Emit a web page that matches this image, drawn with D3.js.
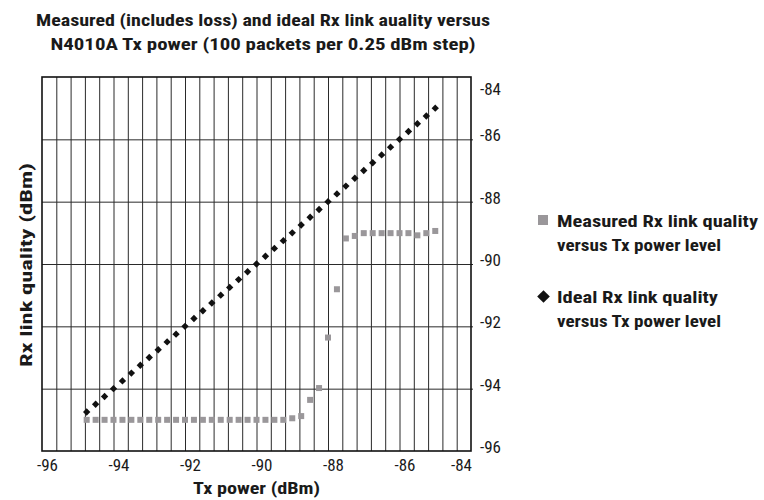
<!DOCTYPE html>
<html>
<head>
<meta charset="utf-8">
<script src="https://cdn.jsdelivr.net/npm/d3@7"></script>
<style>
  html, body { margin: 0; padding: 0; background: #fff; }
  svg { display: block; }
  text { font-family: "Liberation Sans Narrow", "Roboto Condensed", "DejaVu Sans Condensed", "Liberation Sans", sans-serif; font-stretch: condensed; fill: #1a1a1a; }
</style>
</head>
<body>
<svg id="chart" width="764" height="500"></svg>
<script>
// ---- data ----
const txPower = [-94.75, -94.5, -94.25, -94, -93.75, -93.5, -93.25, -93, -92.75, -92.5,
                 -92.25, -92, -91.75, -91.5, -91.25, -91, -90.75, -90.5, -90.25, -90,
                 -89.75, -89.5, -89.25, -89, -88.75, -88.5, -88.25, -88, -87.75, -87.5,
                 -87.25, -87, -86.75, -86.5, -86.25, -86, -85.75, -85.5, -85.25, -85];
const idealRx = [-94.75, -94.5, -94.25, -94, -93.75, -93.5, -93.25, -93, -92.75, -92.5,
                 -92.25, -92, -91.75, -91.5, -91.25, -91, -90.75, -90.5, -90.25, -90,
                 -89.75, -89.5, -89.25, -89, -88.75, -88.5, -88.25, -88, -87.75, -87.5,
                 -87.25, -87, -86.75, -86.5, -86.25, -86, -85.75, -85.5, -85.25, -85];
const measuredRx = [-95, -95, -95, -95, -95, -95, -95, -95, -95, -95,
                    -95, -95, -95, -95, -95, -95, -95, -95, -95, -95,
                    -95, -95, -95, -94.95, -94.88, -94.36, -93.98, -92.36, -90.81, -89.18,
                    -89.10, -89.01, -89.01, -89.01, -89.01, -89.01, -89.01, -89.08, -89.01, -88.94];
const xTicks = [-96, -94, -92, -90, -88, -86, -84];
const yTicks = [-96, -94, -92, -90, -88, -86, -84];
const xGrid = [-95.6, -95.2, -94.8, -94.4, -94, -93.6, -93.2, -92.8, -92.4, -92, -91.6, -91.2,
               -90.8, -90.4, -90, -89.6, -89.2, -88.8, -88.4, -88, -87.6, -87.2, -86.8, -86.4,
               -86, -85.6, -85.2, -84.8, -84.4];
const yGrid = [-94, -92, -90, -88, -86];
const titleLines = ["Measured (includes loss) and ideal Rx link auality versus",
                    "N4010A Tx power (100 packets per 0.25 dBm step)"];
const xTitle = "Tx power (dBm)";
const yTitle = "Rx link quality (dBm)";
const legendItems = [
  {name: ["Measured Rx link quality", "versus Tx power level"], kind: "square"},
  {name: ["Ideal Rx link quality", "versus Tx power level"], kind: "diamond"}
];

// ---- layout ----
const L = 42, R = 471, T = 77, B = 451;
const svg = d3.select("#chart");
const x = d3.scaleLinear().domain([-96, -84]).range([L, R]);
const y = d3.scaleLinear().domain([-96, -84]).range([B, T]);

const gridColor = "#2a2a2a";
const sqColor = "#9a979a";
const fmt = d => String(d);   // plain hyphen-minus as in the reference

// stretch text horizontally to a target width (condensed face is narrower)
function fit(sel, w) {
  sel.attr("textLength", w).attr("lengthAdjust", "spacingAndGlyphs");
}

// vertical grid via axis
const gx = svg.append("g").attr("transform", `translate(0,${B})`)
  .call(d3.axisBottom(x).tickValues(xGrid).tickSize(-(B - T)).tickFormat(""));
gx.select(".domain").remove();
gx.selectAll(".tick line").attr("stroke", gridColor).attr("stroke-width", 1);

// horizontal grid via axis (extends 2px outside on right)
const gy = svg.append("g").attr("transform", `translate(${R + 2},0)`)
  .call(d3.axisLeft(y).tickValues(yGrid).tickSize(R + 2 - L).tickFormat(""));
gy.select(".domain").remove();
gy.selectAll(".tick line").attr("stroke", gridColor).attr("stroke-width", 1);

// frame
svg.append("rect").attr("x", L).attr("y", T).attr("width", R - L).attr("height", B - T)
  .attr("fill", "none").attr("stroke", "#111").attr("stroke-width", 1.6);

// x tick labels
const xa = svg.append("g").attr("transform", `translate(0,${B})`)
  .call(d3.axisBottom(x).tickValues(xTicks).tickSize(0).tickFormat(fmt));
xa.select(".domain").remove();
xa.selectAll(".tick text")
  .attr("font-size", 16).attr("fill", "#1a1a1a")
  .attr("y", 20).attr("dy", 0)
  .attr("dx", d => d === -84 ? -10 : 5)
  .call(fit, 21);

// y tick labels
const ya = svg.append("g").attr("transform", `translate(${R},0)`)
  .call(d3.axisRight(y).tickValues(yTicks).tickSize(0).tickFormat(fmt));
ya.select(".domain").remove();
ya.selectAll(".tick text")
  .attr("font-size", 16).attr("fill", "#1a1a1a")
  .attr("x", 9).attr("dy", d => d === -84 ? "1.1em" : "0.1em")
  .attr("text-anchor", "start")
  .call(fit, 21);
svg.selectAll(".tick text").attr("font-family", null);
xa.attr("font-family", null); ya.attr("font-family", null);

// measured squares
const sq = 6;
svg.append("g").selectAll("rect").data(txPower).join("rect")
  .attr("x", (d, i) => x(d) - sq / 2)
  .attr("y", (d, i) => y(measuredRx[i]) - sq / 2)
  .attr("width", sq).attr("height", sq)
  .attr("fill", sqColor);

// ideal diamonds
const diamond = d3.symbol().type(d3.symbolSquare).size(27);
svg.append("g").selectAll("path").data(txPower).join("path")
  .attr("d", diamond)
  .attr("transform", (d, i) => `translate(${x(d)},${y(idealRx[i])}) rotate(45)`)
  .attr("fill", "#111");

// title
const titleW = [454, 425];
titleLines.forEach((t, i) => {
  svg.append("text").attr("text-anchor", "middle").attr("font-weight", "bold")
    .attr("font-size", 17).attr("x", 263).attr("y", 26 + i * 24).text(t)
    .call(fit, titleW[i]);
});

// axis titles
svg.append("text").attr("x", (L + R) / 2).attr("y", 494).attr("text-anchor", "middle")
  .attr("font-weight", "bold").attr("font-size", 16).text(xTitle).call(fit, 127);
svg.append("text").attr("transform", `translate(32,${(T + B) / 2 + 1}) rotate(-90)`)
  .attr("text-anchor", "middle").attr("font-weight", "bold").attr("font-size", 16).text(yTitle)
  .call(fit, 204);

// legend
const lg = svg.append("g");
const legY = [227, 303];
const legW = [[201, 164], [161, 164]];
legendItems.forEach((it, i) => {
  if (it.kind === "square") {
    lg.append("rect").attr("x", 538).attr("y", legY[i] - 12).attr("width", 10).attr("height", 10)
      .attr("fill", sqColor);
  } else {
    lg.append("path").attr("d", d3.symbol().type(d3.symbolSquare).size(80))
      .attr("transform", `translate(543.5,${legY[i] - 6.5}) rotate(45)`).attr("fill", "#111");
  }
  it.name.forEach((s, j) => {
    lg.append("text").attr("font-weight", "bold").attr("font-size", 17)
      .attr("x", 557).attr("y", legY[i] + j * 24).text(s).call(fit, legW[i][j]);
  });
});
</script>
</body>
</html>
